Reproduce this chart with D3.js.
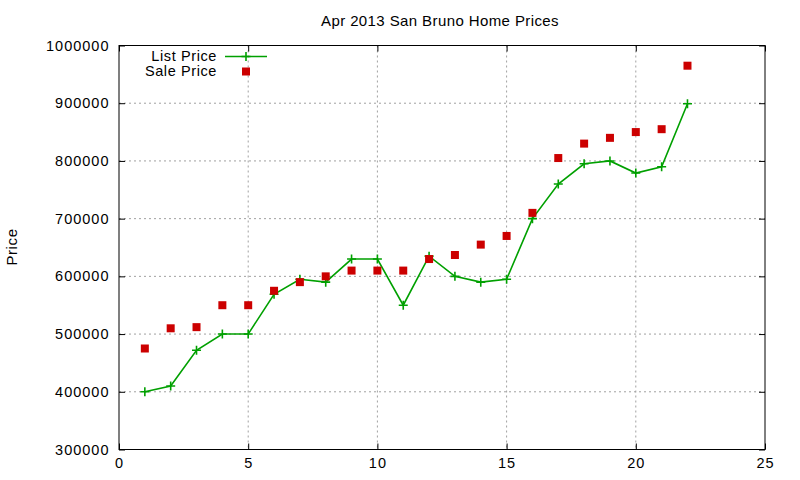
<!DOCTYPE html>
<html lang="en">
<head>
    <meta charset="UTF-8">
    <title>Apr 2013 San Bruno Home Prices</title>
    <style>
        body {
            margin: 0;
            padding: 0;
            background: #fff;
        }
        svg {
            display: block;
            font-family: 'Liberation Sans', Arial, sans-serif;
        }
        .tick text {
            font-size: 14.5px;
            letter-spacing: 1px;
            fill: #000;
        }
        .grid line {
            stroke: #a0a0a0;
            stroke-dasharray: 2,3;
        }
    </style>
</head>
<body>

<svg id="chart" width="800" height="480"></svg>

<script src="https://d3js.org/d3.v7.min.js"></script>
<script>
    // Data
    const days = d3.range(1, 23);
    const listPrice = [400000, 410000, 472000, 500000, 500000, 569000, 595000, 590000, 630000, 630000, 550000,
                       635000, 600000, 590000, 595000, 700000, 760000, 795000, 800000, 779000, 790000, 899000];
    const salePrice = [475000, 510000, 512000, 550000, 550000, 575000, 590000, 600000, 610000, 610000, 610000,
                       630000, 637000, 655000, 670000, 710000, 805000, 830000, 840000, 850000, 855000, 965000];
    const xTicks = [0, 5, 10, 15, 20, 25];
    const yTicks = [300000, 400000, 500000, 600000, 700000, 800000, 900000, 1000000];

    const svg = d3.select("#chart");
    const plotL = 119, plotR = 765, plotT = 45.5, plotB = 449.5;

    const x = d3.scaleLinear().domain([0, 25]).range([plotL, plotR]);
    const y = d3.scaleLinear().domain([300000, 1000000]).range([plotB, plotT]);

    // grid lines (interior only)
    svg.append("g").attr("class", "grid")
        .selectAll("line").data(xTicks.slice(1, -1)).join("line")
        .attr("x1", d => x(d)).attr("x2", d => x(d))
        .attr("y1", plotT).attr("y2", plotB);
    svg.append("g").attr("class", "grid")
        .selectAll("line").data(yTicks.slice(1, -1)).join("line")
        .attr("x1", plotL).attr("x2", plotR)
        .attr("y1", d => y(d)).attr("y2", d => y(d));

    // axes with inward ticks
    svg.append("g").attr("transform", `translate(0,${plotB})`)
        .call(d3.axisBottom(x).tickValues(xTicks).tickSize(-6).tickPadding(8).tickFormat(d3.format("d")));
    svg.append("g").attr("transform", `translate(${plotL},0)`)
        .call(d3.axisLeft(y).tickValues(yTicks).tickSize(-6).tickPadding(9.5).tickFormat(d3.format("d")));
    svg.append("g").attr("transform", `translate(0,${plotT})`)
        .call(d3.axisTop(x).tickValues(xTicks).tickSize(-6).tickFormat(""));
    svg.append("g").attr("transform", `translate(${plotR},0)`)
        .call(d3.axisRight(y).tickValues(yTicks).tickSize(-6).tickFormat(""));
    svg.selectAll(".domain").remove();
    svg.selectAll(".tick line").attr("stroke", "#000");

    // frame
    svg.append("rect")
        .attr("x", plotL).attr("y", plotT)
        .attr("width", plotR - plotL).attr("height", plotB - plotT)
        .attr("fill", "none").attr("stroke", "#000").attr("stroke-width", 1);

    const green = "#00a000", red = "#cc0000";

    // list price line
    const line = d3.line().x((d, i) => x(days[i])).y(d => y(d));
    svg.append("path")
        .datum(listPrice)
        .attr("d", line)
        .attr("fill", "none")
        .attr("stroke", green)
        .attr("stroke-width", 1.6);

    function plusPath(cx, cy, s) {
        return `M${cx - s},${cy}H${cx + s}M${cx},${cy - s}V${cy + s}`;
    }
    svg.append("g").selectAll("path").data(listPrice).join("path")
        .attr("d", (d, i) => plusPath(x(days[i]), y(d), 4.5))
        .attr("stroke", green).attr("stroke-width", 1.6).attr("fill", "none");

    // sale price squares
    svg.append("g").selectAll("rect").data(salePrice).join("rect")
        .attr("x", (d, i) => x(days[i]) - 4)
        .attr("y", d => y(d) - 4)
        .attr("width", 8).attr("height", 8)
        .attr("fill", red);

    // title and axis label
    svg.append("text")
        .attr("x", 440).attr("y", 25.5)
        .attr("text-anchor", "middle")
        .attr("font-size", 15)
        .attr("letter-spacing", 0.4)
        .text("Apr 2013 San Bruno Home Prices");

    svg.append("text")
        .attr("transform", "translate(16.5,247) rotate(-90)")
        .attr("text-anchor", "middle")
        .attr("font-size", 15)
        .attr("letter-spacing", 0.6)
        .text("Price");

    // legend
    const legend = [
        { name: "List Price", y: 56.5 },
        { name: "Sale Price", y: 71.5 }
    ];
    svg.append("g").selectAll("text").data(legend).join("text")
        .attr("x", 217).attr("y", d => d.y + 4.8)
        .attr("text-anchor", "end")
        .attr("font-size", 14.5)
        .attr("letter-spacing", 0.6)
        .text(d => d.name);
    svg.append("line")
        .attr("x1", 225).attr("x2", 267)
        .attr("y1", legend[0].y).attr("y2", legend[0].y)
        .attr("stroke", green).attr("stroke-width", 1.6);
    svg.append("path")
        .attr("d", plusPath(246, legend[0].y, 4.5))
        .attr("stroke", green).attr("stroke-width", 1.6);
    svg.append("rect")
        .attr("x", 242).attr("y", legend[1].y - 4)
        .attr("width", 8).attr("height", 8)
        .attr("fill", red);
</script>

</body>
</html>
